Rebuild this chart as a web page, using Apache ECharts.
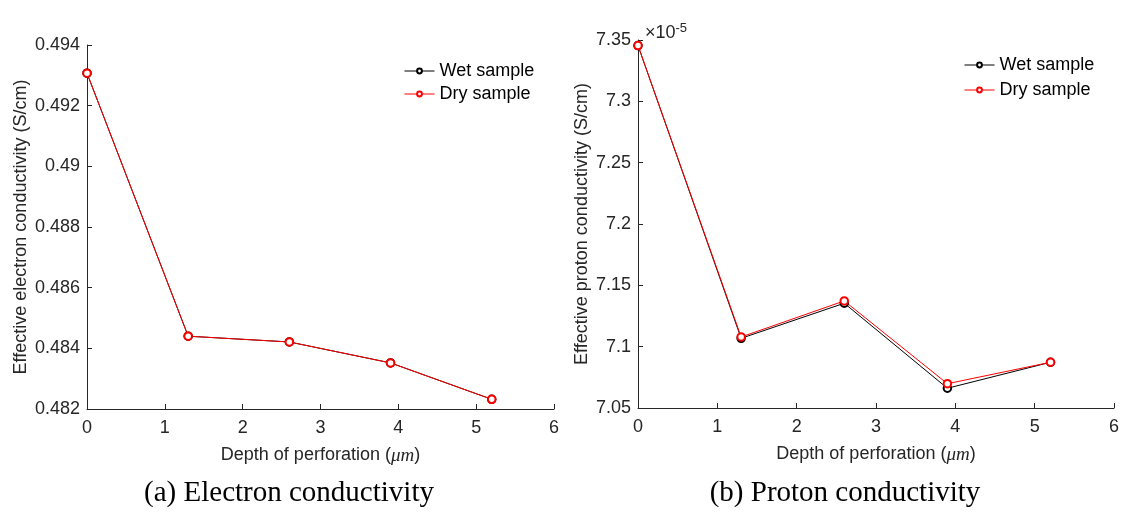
<!DOCTYPE html>
<html><head><meta charset="utf-8">
<script src="https://cdn.jsdelivr.net/npm/echarts@6/dist/echarts.min.js"></script>
<style>html,body{margin:0;padding:0;background:#fff}#c{width:1128px;height:516px}</style>
</head><body><div id="c"></div>
<script>
const depth = [0, 1.3, 2.6, 3.9, 5.2];
const electronWet = [0.49307, 0.48440, 0.48421, 0.48352, 0.48232];
const electronDry = [0.49307, 0.48440, 0.48421, 0.48352, 0.48232];
const protonWet = [7.3455, 7.1068, 7.1354, 7.0661, 7.0873]; // x 1e-5
const protonDry = [7.3455, 7.1079, 7.1373, 7.0698, 7.0873]; // x 1e-5
const xTicks = [0, 1, 2, 3, 4, 5, 6];
const seriesNames = ['Wet sample', 'Dry sample'];
const captions = ['(a) Electron conductivity', '(b) Proton conductivity'];

const pair = (xs, ys) => xs.map((x, i) => [x, ys[i]]);
const axisCol = '#262626';
const font = 'Liberation Sans, Arial, sans-serif';
const serif = 'Liberation Serif, Times New Roman, serif';

function xAxis(gi) {
  return {
    type: 'value', gridIndex: gi, min: xTicks[0], max: xTicks[xTicks.length - 1], interval: 1,
    name: 'Depth of perforation ({i|μm})', nameLocation: 'middle', nameGap: 37,
    nameTextStyle: { fontFamily: font, fontSize: 18, color: axisCol,
      rich: { i: { fontStyle: 'italic', fontFamily: serif, fontSize: 19, color: axisCol } } },
    axisLine: { lineStyle: { color: axisCol, width: 1 } },
    axisTick: { inside: true, length: 5, lineStyle: { color: axisCol } },
    axisLabel: { fontFamily: font, fontSize: 18, color: axisCol, margin: 10 },
    splitLine: { show: false }
  };
}
function yAxis(gi, min, max, interval, name, gap) {
  return {
    type: 'value', gridIndex: gi, min, max, interval,
    name, nameLocation: 'middle', nameGap: gap,
    nameTextStyle: { fontFamily: font, fontSize: 18, color: axisCol },
    axisLine: { show: true, lineStyle: { color: axisCol, width: 1 } },
    axisTick: { show: true, inside: true, length: 5, lineStyle: { color: axisCol } },
    axisLabel: { fontFamily: font, fontSize: 18, color: axisCol, margin: 7,
      formatter: v => String(+v.toFixed(4)) },
    splitLine: { show: false }
  };
}
function line(name, data, color, xi) {
  return {
    name, type: 'line', xAxisIndex: xi, yAxisIndex: xi, data,
    symbol: 'emptyCircle', symbolSize: 7.5, showSymbol: true,
    lineStyle: { color, width: 1 }, itemStyle: { color, borderColor: color, borderWidth: 1 },
    animation: false
  };
}
function legend(left, top, gap) {
  return { data: seriesNames, left, top, orient: 'vertical', padding: 0,
    itemWidth: 30, itemHeight: 6, itemGap: gap,
    lineStyle: { width: 1 }, itemStyle: { borderWidth: 1 },
    textStyle: { fontFamily: font, fontSize: 18, color: '#000' } };
}

const chart = echarts.init(document.getElementById('c'), null, { renderer: 'canvas' });
chart.setOption({
  backgroundColor: '#fff',
  animation: false,
  grid: [
    { left: 87, top: 45, width: 467, height: 364 },
    { left: 638, top: 40, width: 476, height: 368 }
  ],
  xAxis: [xAxis(0), xAxis(1)],
  yAxis: [
    yAxis(0, 0.482, 0.494, 0.002, 'Effective electron conductivity (S/cm)', 57),
    yAxis(1, 7.05, 7.35, 0.05, 'Effective proton conductivity (S/cm)', 47)
  ],
  legend: [legend(404, 62, 5), legend(964, 56, 7)],
  title: [
    { text: captions[0], left: 284, top: 474, textAlign: 'center',
      textStyle: { fontFamily: serif, fontSize: 29, fontWeight: 'normal', color: '#000' } },
    { text: captions[1], left: 840, top: 474, textAlign: 'center',
      textStyle: { fontFamily: serif, fontSize: 29, fontWeight: 'normal', color: '#000' } },
    { text: '×10{s|-5}', left: 640, top: 17,
      textStyle: { fontFamily: font, fontSize: 18, fontWeight: 'normal', color: axisCol,
        rich: { s: { fontSize: 13, verticalAlign: 'top', padding: [0, 0, 10, 0], color: axisCol, fontFamily: font } } } }
  ],
  series: [
    line(seriesNames[0], pair(depth, electronWet), '#000000', 0),
    line(seriesNames[1], pair(depth, electronDry), '#ff0000', 0),
    line(seriesNames[0], pair(depth, protonWet), '#000000', 1),
    line(seriesNames[1], pair(depth, protonDry), '#ff0000', 1)
  ]
});
</script></body></html>
